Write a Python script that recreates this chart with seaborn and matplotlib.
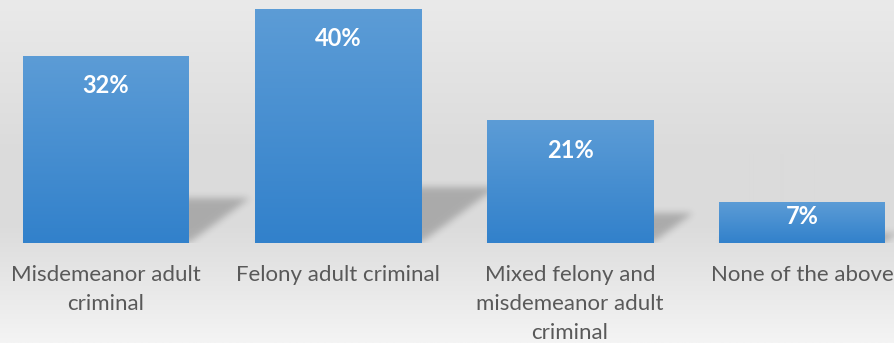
import numpy as np
import pandas as pd
import matplotlib
matplotlib.use("Agg")
import matplotlib.pyplot as plt
from matplotlib.path import Path
import seaborn as sns

# Survey result: share of respondents per offender category
categories = [
    "Misdemeanor adult\ncriminal",
    "Felony adult criminal",
    "Mixed felony and\nmisdemeanor adult\ncriminal",
    "None of the above",
]
values = [32, 40, 21, 7]
value_labels = ["32%", "40%", "21%", "7%"]

W, H, DPI = 895, 343, 100
BASE_PX = 243          # pixel row of the zero line (from top)
PX_PER_UNIT_Y = 5.85   # vertical pixels per percentage point
PX_PER_CAT = 232       # horizontal pixels per category slot
FIRST_CENTER_PX = 106
LABEL_BASELINE_PX = 281
LABEL_LINE_PX = 29

sns.set_style("white")
plt.rcParams["font.family"] = ["Lato", "DejaVu Sans"]

fig = plt.figure(figsize=(W / DPI, H / DPI), dpi=DPI)

# soft grey backdrop
bg_ax = fig.add_axes([0, 0, 1, 1], zorder=-5)
stops_y = np.array([0.0, 0.45, 0.65, 0.78, 1.0])
stops_v = np.array([234, 219, 219, 228, 244]) / 255.0
rows = np.interp(np.linspace(0, 1, H), stops_y, stops_v)
bg = np.repeat(rows[:, None], 4, axis=1)
bg_rgb = np.dstack([bg, bg, bg])
bg_ax.imshow(bg_rgb, aspect="auto", extent=(0, 1, 0, 1), origin="upper",
             interpolation="bilinear")
bg_ax.set_axis_off()

# plotting area: spans full width, from the zero line up to the top edge
ax = fig.add_axes([0, (H - BASE_PX) / H, 1, BASE_PX / H])
ax.patch.set_alpha(0)

df = pd.DataFrame({"category": categories, "value": values})
bar_width = 166 / PX_PER_CAT
sns.barplot(data=df, x="category", y="value", color="#4a8fd2",
            width=bar_width, ax=ax, zorder=3)

xlim = (-FIRST_CENTER_PX / PX_PER_CAT, (W - FIRST_CENTER_PX) / PX_PER_CAT)
ylim = (0, BASE_PX / PX_PER_UNIT_Y)
ax.set_xlim(*xlim)
ax.set_ylim(*ylim)
ax.set_axis_off()

# cast shadows lying on the floor behind each bar
nx, ny = W, BASE_PX
gx = np.linspace(xlim[0], xlim[1], nx)
gy = np.linspace(ylim[0], ylim[1], ny)
XX, YY = np.meshgrid(gx, gy)
pts = np.column_stack([XX.ravel(), YY.ravel()])
mask = np.zeros(nx * ny)
rise = 0.24          # shadow depth relative to bar height
slant = 0.00823      # sideways drift per unit of bar height
for patch in ax.patches:
    x0 = patch.get_x()
    x1 = x0 + patch.get_width()
    h = patch.get_height()
    poly = Path([(x0, 0), (x1, 0), (x1 + slant * h, rise * h),
                 (x0 + slant * h, rise * h), (x0, 0)])
    mask = np.maximum(mask, poly.contains_points(pts).astype(float))
mask = mask.reshape(ny, nx)


def blur(a, sigma):
    r = int(3 * sigma)
    k = np.exp(-0.5 * (np.arange(-r, r + 1) / sigma) ** 2)
    k /= k.sum()
    pad = np.pad(a, r, mode="edge")
    tmp = np.apply_along_axis(lambda m: np.convolve(m, k, mode="valid"), 1, pad)
    return np.apply_along_axis(lambda m: np.convolve(m, k, mode="valid"), 0, tmp)


mask = blur(mask, 3.5)
shadow = np.zeros((ny, nx, 4))
shadow[..., 3] = mask * 0.22
ax.imshow(shadow, extent=(xlim[0], xlim[1], ylim[0], ylim[1]), origin="lower",
          aspect="auto", zorder=1, interpolation="bilinear")

# vertical blue gradient on every bar
top_c = np.array([92, 156, 214]) / 255.0
bot_c = np.array([50, 129, 203]) / 255.0
t = np.linspace(0, 1, 64)[:, None]
grad = (top_c * (1 - t) + bot_c * t)[:, None, :]
for patch in ax.patches:
    patch.set_edgecolor("none")
    x0 = patch.get_x()
    x1 = x0 + patch.get_width()
    h = patch.get_height()
    im = ax.imshow(grad, extent=(x0, x1, 0, h), origin="upper", aspect="auto",
                   zorder=4, interpolation="bilinear")
    im.set_clip_path(patch)

# value labels inside the top of each bar
for patch, lab in zip(ax.patches, value_labels):
    cx = patch.get_x() + patch.get_width() / 2
    h = patch.get_height()
    bar_px = h * PX_PER_UNIT_Y
    off = 30 if bar_px > 80 else bar_px * 0.36
    ax.annotate(lab, xy=(cx, h), xytext=(0, -off), textcoords="offset pixels",
                ha="center", va="center", color="white", fontsize=17,
                fontweight="bold", zorder=6)

# category names under the bars, one text per wrapped line
for i, cat in enumerate(categories):
    cx_px = FIRST_CENTER_PX + i * PX_PER_CAT
    for k, line in enumerate(cat.split("\n")):
        y_px = LABEL_BASELINE_PX + k * LABEL_LINE_PX
        fig.text(cx_px / W, 1 - y_px / H, line, ha="center", va="baseline",
                 color="#595959", fontsize=16)

fig.savefig("out.png", dpi=DPI)
